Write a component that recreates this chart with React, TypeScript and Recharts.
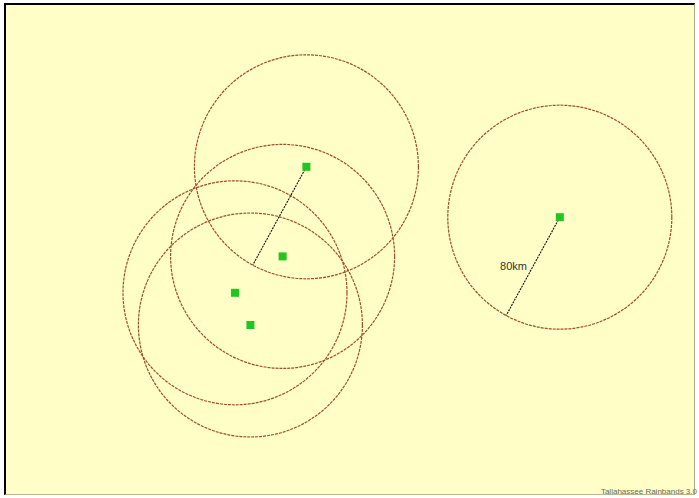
import React from "react";
import { ScatterChart, Scatter, XAxis, YAxis, ReferenceDot, ReferenceLine } from "recharts";

// Station positions in km (origin at top-left of map, y grows downward)
const stationNames = ["A", "B", "C", "D", "E"];
const stationX = [216, 397, 199, 165, 176];
const stationY = [117, 153, 181, 207, 230];
const radiusKm = 80;
const radiusLabel = "80km";
const radiusLineStations = ["A", "B"];
const labelStation = "B";
const footerText = "Tallahassee Rainbands 3.0";

const CHART_W = 691;
const CHART_H = 492;
const PX_PER_KM = 1.4;
const X_MAX = CHART_W / PX_PER_KM;
const Y_MAX = CHART_H / PX_PER_KM;
// direction of the radius line (unit vector, y downward)
const DIR_X = -0.479;
const DIR_Y = 0.878;

const stations = stationNames.map((n, i) => ({ name: n, x: stationX[i], y: stationY[i] }));

const GreenSquare = (props: any) => {
  const { cx, cy } = props;
  if (cx == null || cy == null) return null;
  return <rect x={cx - 4} y={cy - 4} width={8} height={8} fill="#22c522" />;
};

export default function App() {
  const lab = stations.find((s) => s.name === labelStation)!;
  return (
    <div style={{ position: "absolute", left: 0, top: 0, width: 699, height: 498, background: "#fff" }}>
      <div
        style={{
          position: "absolute",
          left: 4,
          top: 3,
          width: CHART_W,
          height: CHART_H,
          background: "#fffec6",
          boxSizing: "border-box",
          borderTop: "2px solid #000",
          borderLeft: "2px solid #000",
          borderRight: "1px solid #a8a890",
          borderBottom: "1px solid #b8b898",
        }}
      />
      <div style={{ position: "absolute", left: 4, top: 3 }}>
        <ScatterChart width={CHART_W} height={CHART_H} margin={{ top: 0, right: 0, bottom: 0, left: 0 }}>
          <XAxis type="number" dataKey="x" domain={[0, X_MAX]} hide allowDataOverflow />
          <YAxis type="number" dataKey="y" domain={[0, Y_MAX]} reversed hide allowDataOverflow />
          {stations.map((s) => (
            <ReferenceDot
              key={"c" + s.name}
              x={s.x}
              y={s.y}
              r={radiusKm * PX_PER_KM}
              fill="none"
              stroke="#9e4e2a"
              strokeWidth={1.2}
              strokeDasharray="3 1"
            />
          ))}
          {stations
            .filter((s) => radiusLineStations.includes(s.name))
            .map((s) => (
              <ReferenceLine
                key={"l" + s.name}
                segment={[
                  { x: s.x, y: s.y },
                  { x: s.x + radiusKm * DIR_X, y: s.y + radiusKm * DIR_Y },
                ]}
                stroke="#111"
                strokeWidth={1.1}
                strokeDasharray="2 1"
              />
            ))}
          <ReferenceDot
            x={lab.x + (radiusKm / 2) * DIR_X}
            y={lab.y + (radiusKm / 2) * DIR_Y}
            r={0}
            fill="none"
            stroke="none"
            label={{
              value: radiusLabel,
              position: "left",
              offset: 6,
              fill: "#333",
              fontSize: 11,
              fontFamily: "Arial, 'Liberation Sans', sans-serif",
            }}
          />
          <Scatter data={stations} shape={<GreenSquare />} isAnimationActive={false} />
        </ScatterChart>
      </div>
      <div
        style={{
          position: "absolute",
          right: 2,
          top: 488,
          fontSize: 8,
          color: "#6a6a5a",
          fontFamily: "Arial, 'Liberation Sans', sans-serif",
          whiteSpace: "nowrap",
          lineHeight: "8px",
        }}
      >
        {footerText}
      </div>
    </div>
  );
}
